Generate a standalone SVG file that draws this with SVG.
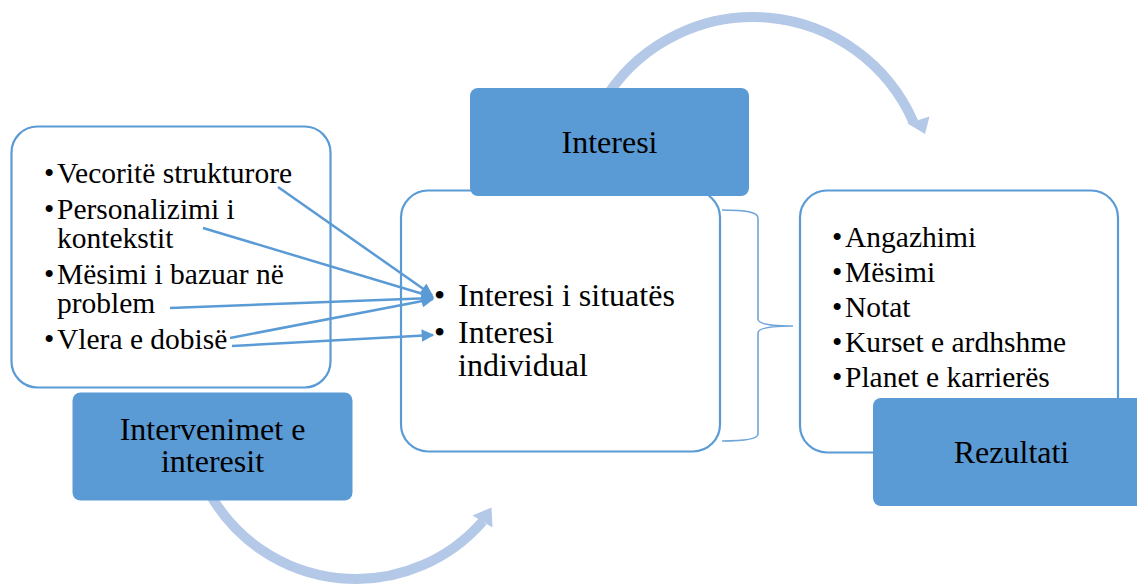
<svg xmlns="http://www.w3.org/2000/svg" width="1137" height="586" viewBox="0 0 1137 586">
<style>
.box{fill:#fff;stroke:#5B9BD5;stroke-width:2.2}
.lbl{fill:#5B9BD5;stroke:none}
.t{font-family:'Liberation Serif','Times New Roman',serif;fill:#000}
.s29{font-size:29.5px}
.s32{font-size:32px}
.band{fill:none;stroke:#B4C8E8;stroke-width:10}
.head{fill:#B4C8E8}
.conn{stroke:#5B9BD5;stroke-width:2.5;fill:none}
.brace{fill:none;stroke:#6FA6DA;stroke-width:1.6}
</style>
<defs>
<marker id="ah" viewBox="0 0 10 10" refX="9" refY="5" markerWidth="6" markerHeight="5" orient="auto" markerUnits="strokeWidth">
<path d="M0,0 L10,5 L0,10 z" fill="#5B9BD5"/>
</marker>
</defs>

<g id="cycle-arrows">
<path class="band" d="M607.9,94.2 A175,175 0 0 1 913.5,122.2"/>
<polygon class="head" points="907.5,123.5 925,134 929.5,116.5"/>
<path class="band" d="M210.5,495 A168,168 0 0 0 482.8,521.2"/>
<polygon class="head" points="472.5,515.5 491.5,507.5 492.5,527.5"/>
</g>

<g id="node-interventions">
<rect class="box" x="11.5" y="126.5" width="319" height="261" rx="26"/>
<text class="t s29" x="44" y="183">•</text><text class="t s29" x="57" y="183">Vecoritë strukturore</text>
<text class="t s29" x="44" y="219">•</text><text class="t s29" x="57" y="219">Personalizimi i</text>
<text class="t s29" x="57" y="248">kontekstit</text>
<text class="t s29" x="44" y="284">•</text><text class="t s29" x="57" y="284">Mësimi i bazuar në</text>
<text class="t s29" x="57" y="313">problem</text>
<text class="t s29" x="44" y="349">•</text><text class="t s29" x="57" y="349">Vlera e dobisë</text>
</g>

<g id="node-interventions-label">
<rect class="lbl" x="72.5" y="392.5" width="280" height="108" rx="8"/>
<text class="t s32" x="212.5" y="440" text-anchor="middle">Intervenimet e</text>
<text class="t s32" x="212.5" y="472" text-anchor="middle">interesit</text>
</g>

<g id="node-interest">
<rect class="box" x="401" y="190.5" width="319" height="261" rx="27"/>
<text class="t s32" x="434" y="306">•</text><text class="t s32" x="458" y="306">Interesi i situatës</text>
<text class="t s32" x="434" y="343">•</text><text class="t s32" x="458" y="343">Interesi</text>
<text class="t s32" x="458" y="376">individual</text>
</g>

<g id="node-interest-label">
<rect class="lbl" x="470" y="88" width="279" height="108" rx="8"/>
<text class="t s32" x="609.5" y="153" text-anchor="middle">Interesi</text>
</g>

<g id="node-results">
<rect class="box" x="800" y="190.5" width="318" height="262" rx="27"/>
<text class="t s29" x="832" y="247">•</text><text class="t s29" x="845" y="247">Angazhimi</text>
<text class="t s29" x="832" y="282">•</text><text class="t s29" x="845" y="282">Mësimi</text>
<text class="t s29" x="832" y="317">•</text><text class="t s29" x="845" y="317">Notat</text>
<text class="t s29" x="832" y="352">•</text><text class="t s29" x="845" y="352">Kurset e ardhshme</text>
<text class="t s29" x="832" y="387">•</text><text class="t s29" x="845" y="387">Planet e karrierës</text>
</g>

<g id="node-results-label">
<rect class="lbl" x="873" y="398" width="280" height="108" rx="8"/>
<text class="t s32" x="1011.5" y="463" text-anchor="middle">Rezultati</text>
</g>

<g id="connectors">
<line class="conn" x1="278" y1="187" x2="432" y2="295" marker-end="url(#ah)"/>
<line class="conn" x1="203" y1="228" x2="433" y2="297" marker-end="url(#ah)"/>
<line class="conn" x1="170" y1="308" x2="433" y2="298" marker-end="url(#ah)"/>
<line class="conn" x1="230" y1="338" x2="433" y2="299" marker-end="url(#ah)"/>
<line class="conn" x1="232" y1="346" x2="433" y2="335" marker-end="url(#ah)"/>
<path class="brace" d="M722,210 C746,210 758,212 758,218 L758,319 C758,324 770,326 793,326 C770,326 758,328 758,333 L758,434 C758,439 746,441 722,441"/>
</g>
</svg>
